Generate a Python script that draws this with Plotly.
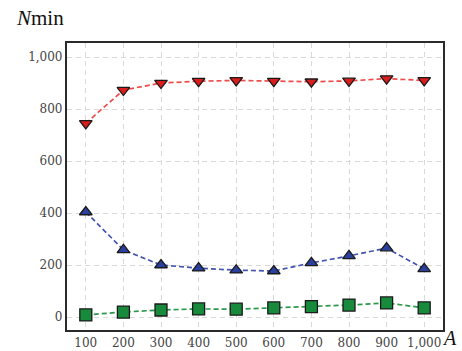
import plotly.graph_objects as go

A = [100, 200, 300, 400, 500, 600, 700, 800, 900, 1000]
red_vals = [745, 873, 900, 907, 910, 907, 905, 908, 917, 910]
blue_vals = [404, 258, 200, 188, 180, 177, 208, 235, 265, 185]
green_vals = [8, 19, 27, 31, 30, 35, 40, 46, 54, 35]
y_ticks = [0, 200, 400, 600, 800, 1000]
y_ticklabels = ["0", "200", "400", "600", "800", "1,000"]
x_ticklabels = ["100", "200", "300", "400", "500", "600", "700", "800", "900", "1,000"]

FONT = "DejaVu Serif"

fig = go.Figure()

series = [
    (red_vals, "triangle-down", "#d91c1c", "#f04a4a", 11),
    (blue_vals, "triangle-up", "#2b3f9e", "#4455b0", 11),
    (green_vals, "square", "#188a3c", "#2a9a4a", 12),
]
for vals, sym, fill, line, size in series:
    fig.add_trace(go.Scatter(
        x=A, y=vals, mode="lines+markers",
        line=dict(color=line, width=1.7, dash="5px,3px"),
        marker=dict(symbol=sym, size=size, color=fill,
                    line=dict(color="#1a1a1a", width=1.3)),
        showlegend=False,
    ))

fig.update_layout(
    width=462, height=351,
    margin=dict(l=67, r=19, t=43, b=21, autoexpand=False),
    paper_bgcolor="white", plot_bgcolor="white",
    font=dict(family=FONT, size=12, color="#444"),
    xaxis=dict(
        range=[50, 1050], tickvals=A, ticktext=x_ticklabels, automargin=False,
        showgrid=True, gridcolor="#d9d9d9", griddash="5px,4px", gridwidth=1,
        showline=True, linecolor="#2a2a2a", linewidth=2.2, mirror=True,
        zeroline=False, ticks="", tickfont=dict(family=FONT, size=12, color="#444"),
    ),
    yaxis=dict(
        range=[-50, 1054], tickvals=y_ticks, ticktext=y_ticklabels, automargin=False,
        showgrid=True, gridcolor="#d9d9d9", griddash="5px,4px", gridwidth=1,
        showline=True, linecolor="#2a2a2a", linewidth=2.2, mirror=True,
        zeroline=False, ticks="", tickfont=dict(family=FONT, size=12, color="#444"),
    ),
    annotations=[
        dict(text="<i>N</i>min", xref="paper", yref="paper",
             x=-0.141, y=1.0, xanchor="left", yanchor="bottom", yshift=11,
             showarrow=False, font=dict(family="Liberation Serif", size=21, color="#111")),
        dict(text="<i>A</i>", xref="paper", yref="paper",
             x=1.016, y=-0.029, xanchor="center", yanchor="middle",
             showarrow=False, borderpad=0,
             font=dict(family="Liberation Serif", size=20, color="#111")),
    ],
)

fig.write_html(
    "out.html",
    config={"displayModeBar": False},
    post_script="document.body.style.margin='0';document.body.style.overflow='hidden';",
)
